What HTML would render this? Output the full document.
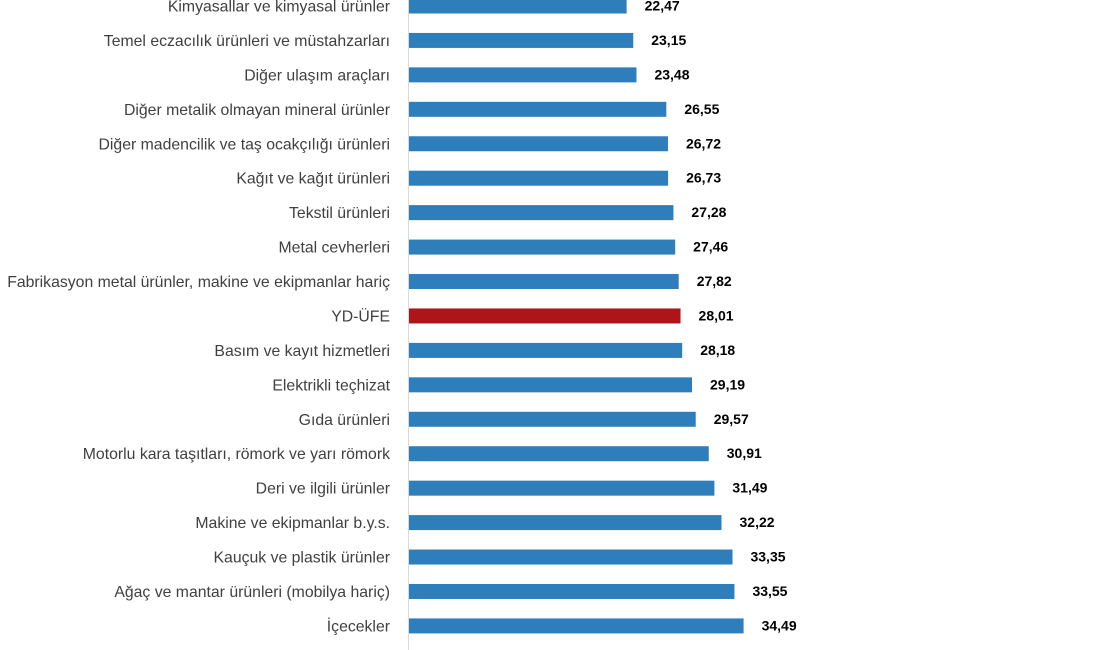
<!DOCTYPE html>
<html><head><meta charset="utf-8"><style>
html,body{margin:0;padding:0;background:#fff;}
svg{display:block;}
.l{font-family:"Liberation Sans",sans-serif;font-size:15.8px;fill:#404040;text-anchor:end;}
.v{font-family:"Liberation Sans",sans-serif;font-size:14px;font-weight:bold;fill:#000;}
</style></head><body>
<svg width="1100" height="650" xmlns="http://www.w3.org/2000/svg">
<line x1="408.5" y1="0" x2="408.5" y2="650" stroke="#d9d9d9" stroke-width="1"/>
<g id="g"></g>
</svg>
<script>
var d=[["Kimyasallar ve kimyasal ürünler",22.47],["Temel eczacılık ürünleri ve müstahzarları",23.15],["Diğer ulaşım araçları",23.48],["Diğer metalik olmayan mineral ürünler",26.55],["Diğer madencilik ve taş ocakçılığı ürünleri",26.72],["Kağıt ve kağıt ürünleri",26.73],["Tekstil ürünleri",27.28],["Metal cevherleri",27.46],["Fabrikasyon metal ürünler, makine ve ekipmanlar hariç",27.82],["YD-ÜFE",28.01],["Basım ve kayıt hizmetleri",28.18],["Elektrikli teçhizat",29.19],["Gıda ürünleri",29.57],["Motorlu kara taşıtları, römork ve yarı römork",30.91],["Deri ve ilgili ürünler",31.49],["Makine ve ekipmanlar b.y.s.",32.22],["Kauçuk ve plastik ürünler",33.35],["Ağaç ve mantar ürünleri (mobilya hariç)",33.55],["İçecekler",34.49]];
var ns="http://www.w3.org/2000/svg",g=document.getElementById("g");
function el(t,a,tx){var e=document.createElementNS(ns,t);for(var k in a)e.setAttribute(k,a[k]);if(tx)e.textContent=tx;g.appendChild(e);}
d.forEach(function(r,i){var c=6+34.44*i,w=r[1]*9.73;
el("rect",{x:409,y:c-7.5,width:w-1,height:15,fill:r[0]=="YD-ÜFE"?"#ad1519":"#2e7ebc"});
el("text",{x:390,y:c+5.5,"class":"l"},r[0]);
el("text",{x:409+w+17,y:c+4.5,"class":"v"},r[1].toFixed(2).replace(".",","));});
</script>
</body></html>
